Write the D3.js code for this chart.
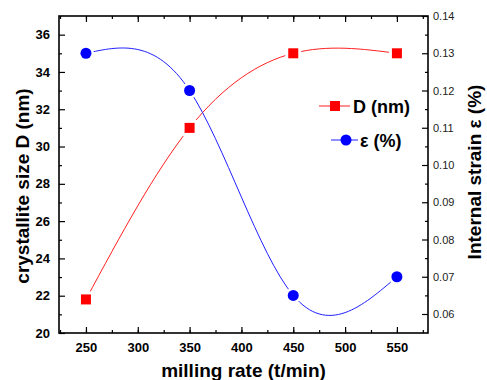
<!DOCTYPE html>
<html>
<head>
<meta charset="utf-8">
<script src="https://cdn.jsdelivr.net/npm/d3@7"></script>
<style>
  body { margin: 0; background: #fff; }
  svg { font-family: "Liberation Sans", Arial, sans-serif; }
</style>
</head>
<body>
<div id="chart"></div>
<script>
// data
const rates = [250, 350, 450, 550];
const sizeD = [21.8, 31, 35, 35];
const strain = [0.13, 0.12, 0.065, 0.07];
const xTicks = [250, 300, 350, 400, 450, 500, 550];
const leftTicks = [20, 22, 24, 26, 28, 30, 32, 34, 36];
const rightTicks = [0.06, 0.07, 0.08, 0.09, 0.10, 0.11, 0.12, 0.13, 0.14];

const W = 487, H = 380;
const margin = { top: 16, right: 59, bottom: 47, left: 59 };
const width = W - margin.left - margin.right;
const height = H - margin.top - margin.bottom;

const svg = d3.select('#chart').append('svg')
  .attr('width', W).attr('height', H);
const g = svg.append('g')
  .attr('transform', 'translate(' + margin.left + ',' + margin.top + ')');

const x = d3.scaleLinear().domain([224, 580]).range([0, width]);
const yL = d3.scaleLinear().domain([20, 37]).range([height, 0]);
const yR = d3.scaleLinear().domain([0.0549, 0.14]).range([height, 0]);

// axes, ticks inside
const minorX = d3.range(225, 580, 25);
g.append('g').attr('transform', 'translate(0,' + height + ')')
  .call(d3.axisBottom(x).tickValues(minorX).tickSize(-3).tickFormat(''));
g.append('g').attr('transform', 'translate(0,' + height + ')')
  .call(d3.axisBottom(x).tickValues(xTicks).tickSize(-6).tickPadding(10).tickFormat(d3.format('d')))
  .call(a => a.selectAll('text').style('font-size', '13px').style('font-weight', 'bold').attr('fill', '#000'));
g.append('g')
  .call(d3.axisTop(x).tickValues(minorX).tickSize(-3).tickFormat(''));
g.append('g')
  .call(d3.axisTop(x).tickValues(xTicks).tickSize(-6).tickFormat(''));

g.append('g')
  .call(d3.axisLeft(yL).tickValues(d3.range(21, 37, 2)).tickSize(-3).tickFormat(''));
g.append('g')
  .call(d3.axisLeft(yL).tickValues(leftTicks).tickSize(-6).tickPadding(9).tickFormat(d3.format('d')))
  .call(a => a.selectAll('text').style('font-size', '13px').style('font-weight', 'bold').attr('fill', '#000'));

g.append('g').attr('transform', 'translate(' + width + ',0)')
  .call(d3.axisRight(yR).tickValues(d3.range(0.065, 0.14, 0.01)).tickSize(-3).tickFormat(''));
g.append('g').attr('transform', 'translate(' + width + ',0)')
  .call(d3.axisRight(yR).tickValues(rightTicks).tickSize(-6).tickPadding(5).tickFormat(d3.format('.2f')))
  .call(a => a.selectAll('text').style('font-size', '11px').attr('fill', '#222'));

g.selectAll('.domain').remove();
g.selectAll('.tick line').attr('stroke', '#000').attr('stroke-width', 1.2);

g.append('rect')
  .attr('width', width).attr('height', height)
  .attr('fill', 'none').attr('stroke', '#000').attr('stroke-width', 1.6);

// curves
const ptsD = rates.map((r, i) => [x(r), yL(sizeD[i])]);
const ptsE = rates.map((r, i) => [x(r), yR(strain[i])]);
const line = d3.line().curve(d3.curveNatural);

g.append('path').attr('d', line(ptsD))
  .attr('fill', 'none').attr('stroke', '#ff2020').attr('stroke-width', 1);
g.append('path').attr('d', line(ptsE))
  .attr('fill', 'none').attr('stroke', '#2020ff').attr('stroke-width', 1);

// white gap around markers
g.selectAll('.gapD').data(ptsD).enter().append('rect')
  .attr('x', d => d[0] - 8).attr('y', d => d[1] - 8)
  .attr('width', 16).attr('height', 16).attr('fill', '#fff');
g.selectAll('.gapE').data(ptsE).enter().append('circle')
  .attr('cx', d => d[0]).attr('cy', d => d[1]).attr('r', 8).attr('fill', '#fff');

g.selectAll('.sq').data(ptsD).enter().append('rect')
  .attr('x', d => d[0] - 5).attr('y', d => d[1] - 5)
  .attr('width', 10).attr('height', 10).attr('fill', '#ff0000');
g.selectAll('.dot').data(ptsE).enter().append('circle')
  .attr('cx', d => d[0]).attr('cy', d => d[1]).attr('r', 5.5).attr('fill', '#0000ff');

// legend
const lg = svg.append('g');
lg.append('line').attr('x1', 319).attr('x2', 350).attr('y1', 106).attr('y2', 106)
  .attr('stroke', '#ff2020').attr('stroke-width', 1);
lg.append('rect').attr('x', 330).attr('y', 101).attr('width', 10).attr('height', 10).attr('fill', '#ff0000');
lg.append('text').attr('x', 353).attr('y', 113).text('D (nm)')
  .style('font-size', '18px').style('font-weight', 'bold');
lg.append('line').attr('x1', 331).attr('x2', 358).attr('y1', 140).attr('y2', 140)
  .attr('stroke', '#2020ff').attr('stroke-width', 1);
lg.append('circle').attr('cx', 346).attr('cy', 140).attr('r', 5.5).attr('fill', '#0000ff');
lg.append('text').attr('x', 360).attr('y', 147).text('ε (%)')
  .style('font-size', '18px').style('font-weight', 'bold');

// axis titles
svg.append('text').attr('x', 243.5).attr('y', 377)
  .attr('text-anchor', 'middle').text('milling rate (t/min)')
  .style('font-size', '19px').style('font-weight', 'bold');
svg.append('text')
  .attr('transform', 'translate(29,186) rotate(-90)')
  .attr('text-anchor', 'middle').text('crystallite size D (nm)')
  .style('font-size', '19px').style('font-weight', 'bold');
svg.append('text')
  .attr('transform', 'translate(481,172) rotate(-90)')
  .attr('text-anchor', 'middle').text('Internal strain ε (%)')
  .style('font-size', '19px').style('font-weight', 'bold');
</script>
</body>
</html>
